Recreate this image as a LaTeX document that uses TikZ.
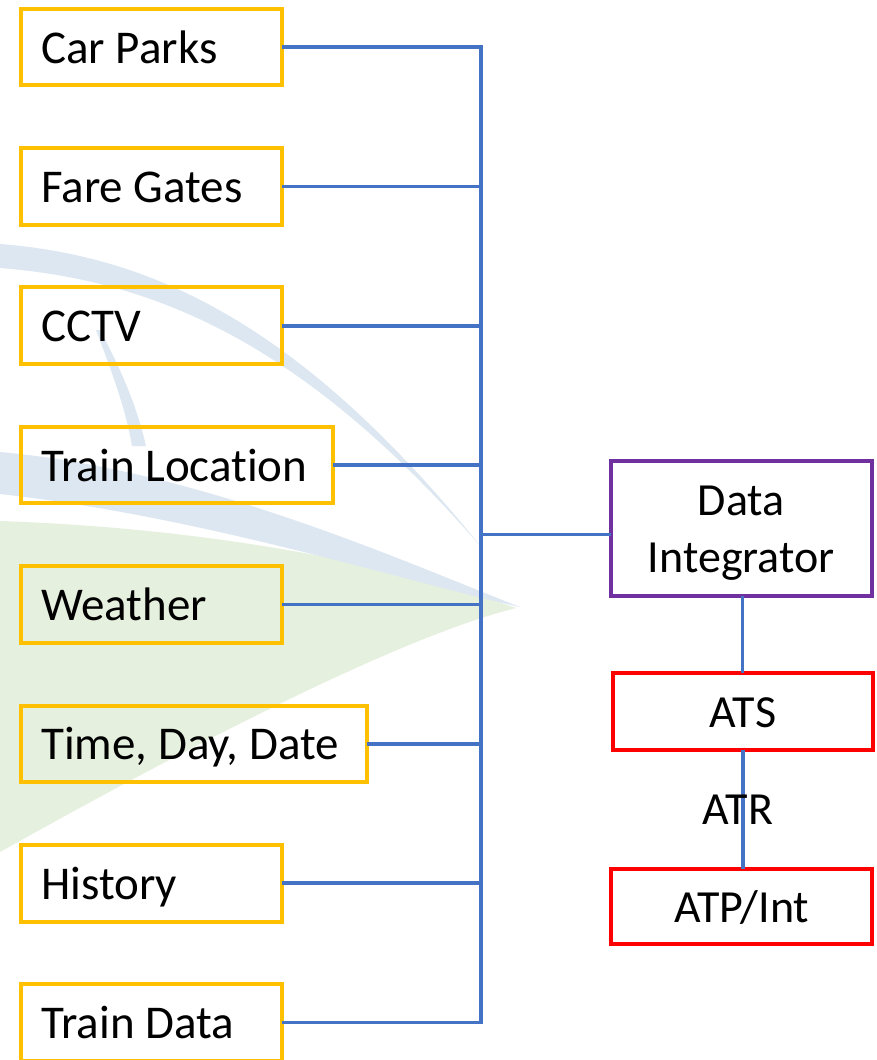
\documentclass[tikz,border=0pt]{standalone}
\usepackage{fontspec}
\setmainfont{Carlito}[Ligatures=NoCommon]
\definecolor{boxyellow}{HTML}{FFC000}
\definecolor{linkblue}{HTML}{4472C4}
\definecolor{dipurple}{HTML}{7030A0}
\definecolor{atsred}{HTML}{FF0000}
\definecolor{leafgreen}{RGB}{230,240,222}
\definecolor{swooshblue}{RGB}{220,231,241}
\begin{document}
\begin{tikzpicture}[x=1pt,y=-1pt,
  src/.style={draw=boxyellow, line width=4pt, rectangle, anchor=west,
    outer sep=0pt, minimum height=76.6pt, inner xsep=20pt, inner ysep=0pt,
    text height=40pt, text depth=8pt, align=flush left,
    font=\fontsize{47}{57}\selectfont},
  sysbox/.style={rectangle, line width=4pt, outer sep=0pt,
    minimum width=260.5pt, inner sep=0pt, align=center,
    font=\fontsize{46}{57}\selectfont},
  link/.style={draw=linkblue, line width=3.6pt}]
\useasboundingbox (0,0) rectangle (877,1060);
\fill[white] (0,0) rectangle (877,1060);

% faint leaf-and-swoosh backdrop
\fill[leafgreen] (0,521) .. controls (200,528) and (380,560) .. (516,608)
  .. controls (420,632) and (250,712) .. (0,852) -- cycle;
\fill[swooshblue] (0,452) .. controls (200,470) and (400,560) .. (520,607)
  .. controls (400,580) and (200,516) .. (0,494) -- cycle;
\fill[swooshblue] (0,244) .. controls (150,256) and (300,322) .. (482,548)
  .. controls (300,338) and (150,280) .. (0,268) -- cycle;
\fill[swooshblue] (96,330) .. controls (112,372) and (126,410) .. (132,446)
  -- (146,446) .. controls (136,402) and (118,364) .. (100,330) -- cycle;

% data sources
\node[src, text width=220.7pt] (cp) at (21.3,47.0) {\mbox{Car Parks}};
\node[src, text width=220.7pt] (fg) at (21.3,186.4) {\mbox{Fare Gates}};
\node[src, text width=220.7pt] (cc) at (21.3,325.7) {\mbox{CCTV}};
\node[src, text width=271.5pt] (tl) at (21.3,465.1) {\mbox{Train Location}};
\node[src, text width=305.5pt] (td) at (21.3,743.9) {\mbox{Time, Day, Date}};
\node[src, text width=220.7pt] (we) at (21.3,604.5) {\mbox{Weather}};
\node[src, text width=220.7pt] (hi) at (21.3,883.2) {\mbox{History}};
\node[src, text width=220.7pt] (tr) at (21.3,1022.6) {\mbox{Train Data}};

% integration and control chain
\node[sysbox, draw=dipurple, minimum height=134.7pt, text width=240pt,
  text height=38pt, text depth=65pt]
  (di) at (741.3,528.7) {Data\\Integrator};
\node[sysbox, draw=atsred, minimum height=77pt, text height=40pt, text depth=8pt]
  (ats) at (743.0,711.5) {ATS};
\node[sysbox, draw=atsred, minimum height=75pt, text height=40pt, text depth=8pt]
  (atp) at (741.7,906.2) {ATP/Int};

% collector bus
\coordinate (bx) at (480.7,0);
\draw[link, line join=miter] (cp.east) -- (cp.east -| bx) -- (tr.east -| bx) -- (tr.east);
\foreach \n in {fg,cc,tl,we,td,hi}
  \draw[link] (\n.east) -- (\n.east -| bx);
\draw[link] ([yshift=-5.6pt]di.west) -- ([yshift=-5.6pt]di.west -| bx);
\draw[link] (di.south -| ats.north) ++(-0.7,0) coordinate (dis) -- (ats.north -| dis);
\draw[link] (ats.south) -- node[font=\fontsize{46}{57}\selectfont, xshift=-5pt] {ATR} (atp.north -| ats.south);
\end{tikzpicture}
\end{document}
